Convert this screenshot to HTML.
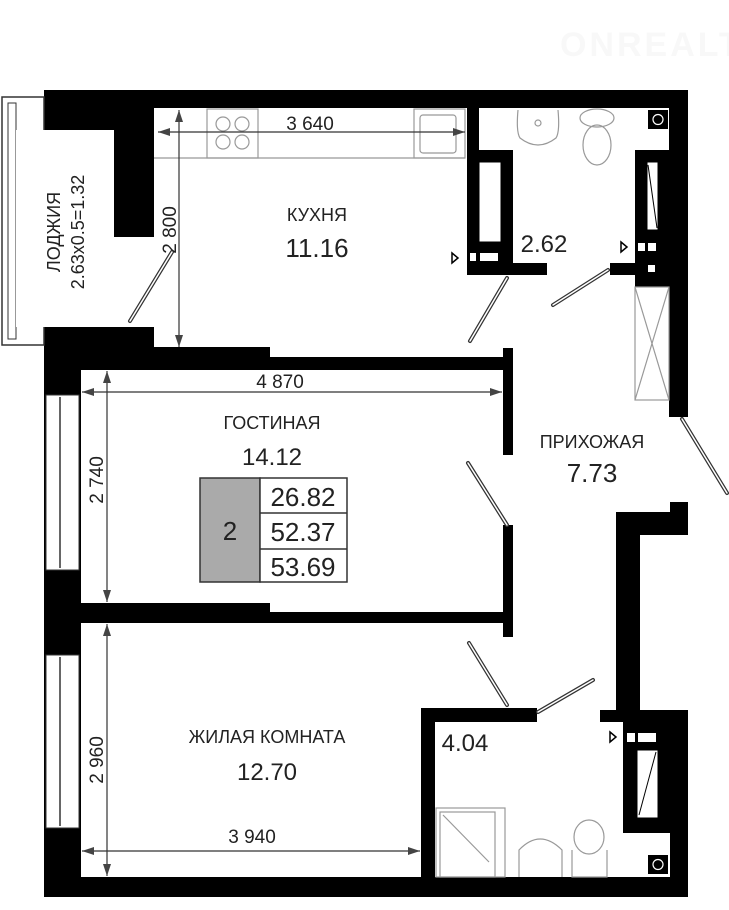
<!DOCTYPE html>
<html><head><meta charset="utf-8"><style>
html,body{margin:0;padding:0;background:#fff;}
svg{display:block;}
text{font-family:"Liberation Sans",sans-serif;fill:#222;}
</style></head><body>
<svg width="729" height="910" viewBox="0 0 729 910" xmlns="http://www.w3.org/2000/svg">
<text x="560" y="56" font-size="34" font-weight="bold" style="fill:#f8f8f8" letter-spacing="3">ONREALT</text>

<g fill="#000">
<rect x="44" y="90" width="644" height="18"/>
<rect x="44" y="90" width="110" height="40"/>
<rect x="114" y="108" width="40" height="129"/>
<rect x="669" y="90" width="19" height="327"/>
<rect x="467" y="108" width="12" height="167"/>
<rect x="467" y="150" width="46" height="125"/>
<rect x="467" y="263" width="80" height="12"/>
<rect x="635" y="150" width="35" height="137"/>
<rect x="610" y="263" width="30" height="12"/>
<rect x="44" y="327" width="110" height="25"/>
<rect x="44" y="347" width="226" height="12"/>
<rect x="44" y="357" width="468" height="13"/>
<rect x="44" y="327" width="37" height="570"/>
<rect x="503" y="348" width="10" height="107"/>
<rect x="503" y="525" width="10" height="112"/>
<rect x="44" y="603" width="226" height="12"/>
<rect x="44" y="612" width="468" height="11"/>
<rect x="616" y="512" width="24" height="210"/>
<rect x="616" y="512" width="72" height="23"/>
<rect x="670" y="502" width="18" height="12"/>
<rect x="421" y="708" width="116" height="14"/>
<rect x="421" y="708" width="14" height="180"/>
<rect x="600" y="710" width="88" height="12"/>
<rect x="623" y="710" width="65" height="123"/>
<rect x="670" y="710" width="18" height="187"/>
<rect x="44" y="877" width="644" height="20"/>
</g>

<g fill="#fff" stroke="#000" stroke-width="1">
<rect x="479" y="162" width="22" height="80"/>
<rect x="647" y="162" width="11" height="68"/>
<rect x="637" y="750" width="21" height="68"/>
</g>
<line x1="648" y1="165" x2="657" y2="228" stroke="#000"/>
<line x1="656" y1="752" x2="639" y2="815" stroke="#000"/>
<g fill="#fff">
<rect x="470" y="253" width="6" height="8"/><rect x="480" y="253" width="18" height="8"/>
<rect x="638" y="243" width="7" height="8"/><rect x="648" y="243" width="8" height="8"/>
<rect x="648" y="265" width="7" height="7"/>
<rect x="627" y="733" width="8" height="9"/><rect x="638" y="733" width="18" height="9"/>
</g>
<g fill="#fff" stroke="#333" stroke-width="1">
<rect x="46" y="395" width="33" height="175"/>
<rect x="46" y="655" width="33" height="173"/>
</g>
<g stroke="#333" stroke-width="1.5">
<line x1="60" y1="397" x2="60" y2="568"/><line x1="60" y1="657" x2="60" y2="826"/>
</g>
<!-- loggia -->
<rect x="2" y="97" width="42" height="248" fill="none" stroke="#333" stroke-width="1.5"/>
<rect x="8" y="103" width="8" height="236" fill="none" stroke="#333" stroke-width="1"/>
<rect x="16" y="130" width="98" height="197" fill="#fff"/>
<text transform="translate(60,232) rotate(-90)" font-size="18" text-anchor="middle">ЛОДЖИЯ</text>
<text transform="translate(84,232) rotate(-90)" font-size="18" text-anchor="middle">2.63x0.5=1.32</text>

<g stroke="#333" stroke-width="4" stroke-linecap="round">
<line x1="172" y1="252" x2="130" y2="321"/>
<line x1="507" y1="278" x2="470" y2="341"/>
<line x1="608" y1="270" x2="553" y2="305"/>
<line x1="682" y1="419" x2="727" y2="493"/>
<line x1="507" y1="525" x2="468" y2="463"/>
<line x1="507" y1="705" x2="469" y2="643"/>
<line x1="538" y1="712" x2="593" y2="680"/>
</g>
<g stroke="#fff" stroke-width="1.5" stroke-linecap="round">
<line x1="172" y1="252" x2="130" y2="321"/>
<line x1="507" y1="278" x2="470" y2="341"/>
<line x1="608" y1="270" x2="553" y2="305"/>
<line x1="682" y1="419" x2="727" y2="493"/>
<line x1="507" y1="525" x2="468" y2="463"/>
<line x1="507" y1="705" x2="469" y2="643"/>
<line x1="538" y1="712" x2="593" y2="680"/>
</g>
<g fill="none" stroke="#000" stroke-width="1.5">
<path d="M452 253 L458 258 L452 263 Z"/>
<path d="M621 242 L627 247 L621 252 Z"/>
<path d="M610 732 L616 737 L610 742 Z"/>
</g>

<g fill="none" stroke="#999" stroke-width="1.2">
<line x1="154" y1="158" x2="465" y2="158"/>
<rect x="207" y="109" width="51" height="49"/>
<circle cx="223" cy="124" r="7"/><circle cx="242" cy="124" r="7"/>
<circle cx="223" cy="142" r="7"/><circle cx="242" cy="142" r="7"/>
<rect x="414" y="109" width="51" height="49"/>
<rect x="420" y="115" width="36" height="38" rx="3"/>
<path d="M518 110 Q516 132 520 138 Q538 152 556 138 Q560 132 558 110"/>
<circle cx="538" cy="123" r="3"/>
<ellipse cx="597" cy="118" rx="17" ry="9"/>
<ellipse cx="597" cy="145" rx="14" ry="20"/>
<rect x="635" y="287" width="34" height="113"/>
<line x1="635" y1="287" x2="669" y2="400"/><line x1="669" y1="287" x2="635" y2="400"/>
<rect x="436" y="808" width="69" height="69"/>
<rect x="440" y="812" width="55" height="65"/>
<line x1="443" y1="815" x2="489" y2="862"/>
<path d="M519 877 L519 850 Q540 828 562 850 L562 877"/>
<ellipse cx="589" cy="837" rx="15" ry="17"/>
<path d="M572 850 L572 877 L607 877 L607 850"/>
</g>
<g fill="#000">
<rect x="648" y="110" width="20" height="19"/>
<rect x="648" y="855" width="20" height="19"/>
</g>
<g fill="none" stroke="#fff" stroke-width="1.2">
<circle cx="658" cy="119.5" r="5"/><circle cx="658" cy="864.5" r="5"/>
</g>

<g stroke="#333" stroke-width="1.2">
<line x1="158" y1="132" x2="465" y2="132"/>
<line x1="179" y1="110" x2="179" y2="347"/>
<line x1="82" y1="392" x2="502" y2="392"/>
<line x1="107" y1="371" x2="107" y2="602"/>
<line x1="107" y1="624" x2="107" y2="876"/>
<line x1="82" y1="851" x2="420" y2="851"/>
</g>
<g fill="#444">
<path d="M158 132 l12 -4 v8 Z"/><path d="M465 132 l-12 -4 v8 Z"/>
<path d="M179 110 l-4 12 h8 Z"/><path d="M179 347 l-4 -12 h8 Z"/>
<path d="M82 392 l12 -4 v8 Z"/><path d="M502 392 l-12 -4 v8 Z"/>
<path d="M107 371 l-4 12 h8 Z"/><path d="M107 602 l-4 -12 h8 Z"/>
<path d="M107 624 l-4 12 h8 Z"/><path d="M107 876 l-4 -12 h8 Z"/>
<path d="M82 851 l12 -4 v8 Z"/><path d="M420 851 l-12 -4 v8 Z"/>
</g>
<g font-size="19">
<rect x="278" y="114" width="64" height="17" fill="#fff"/>
<text x="310" y="130" text-anchor="middle">3 640</text>
<text transform="translate(176,230) rotate(-90)" text-anchor="middle">2 800</text>
<text x="280" y="388" text-anchor="middle">4 870</text>
<text transform="translate(103,480) rotate(-90)" text-anchor="middle">2 740</text>
<text transform="translate(103,760) rotate(-90)" text-anchor="middle">2 960</text>
<text x="252" y="843" text-anchor="middle">3 940</text>
</g>

<g text-anchor="middle">
<text x="317" y="221" font-size="18">КУХНЯ</text>
<text x="317" y="257" font-size="26">11.16</text>
<text x="544" y="252" font-size="24">2.62</text>
<text x="272" y="429" font-size="18">ГОСТИНАЯ</text>
<text x="272" y="465" font-size="24">14.12</text>
<text x="592" y="448" font-size="18">ПРИХОЖАЯ</text>
<text x="592" y="482" font-size="26">7.73</text>
<text x="267" y="743" font-size="18">ЖИЛАЯ КОМНАТА</text>
<text x="267" y="780" font-size="24">12.70</text>
<text x="465" y="751" font-size="24">4.04</text>
</g>

<rect x="200" y="478" width="60" height="104" fill="#aaa" stroke="#333" stroke-width="1.5"/>
<rect x="260" y="478" width="87" height="104" fill="#fff" stroke="#333" stroke-width="1.5"/>
<line x1="260" y1="513" x2="347" y2="513" stroke="#333" stroke-width="1.5"/>
<line x1="260" y1="549" x2="347" y2="549" stroke="#333" stroke-width="1.5"/>
<g font-size="26" text-anchor="middle">
<text x="230" y="540">2</text>
<text x="303" y="506">26.82</text>
<text x="303" y="541">52.37</text>
<text x="303" y="576">53.69</text>
</g>
</svg>
</body></html>
